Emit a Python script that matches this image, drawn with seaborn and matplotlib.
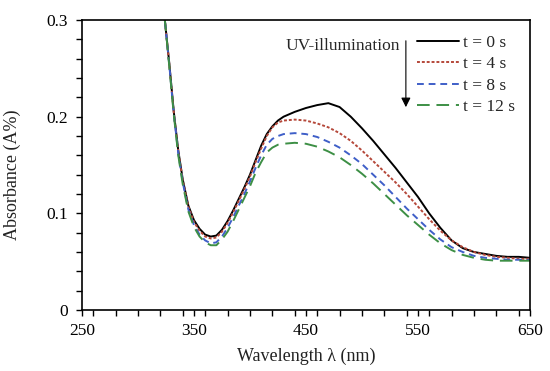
import matplotlib
matplotlib.use("Agg")
import matplotlib.pyplot as plt
import seaborn as sns
import pandas as pd
from matplotlib.ticker import MultipleLocator

wavelength = [320, 324, 328, 332, 336, 340, 345, 350, 355, 360, 365, 370, 375, 380, 385,
              390, 395, 400, 405, 410, 415, 420, 425, 430, 440, 450, 460, 470, 480, 490,
              500, 510, 520, 530, 540, 550, 560, 570, 580, 590, 600, 610, 620, 630, 640, 650]

abs_t0 = [0.36, 0.30, 0.255, 0.205, 0.165, 0.135, 0.108, 0.093, 0.084, 0.078, 0.076, 0.077, 0.083,
          0.092, 0.103, 0.115, 0.127, 0.140, 0.155, 0.170, 0.182, 0.190, 0.196, 0.200, 0.205,
          0.209, 0.212, 0.214, 0.210, 0.200, 0.188, 0.175, 0.161, 0.147, 0.132, 0.117, 0.100,
          0.085, 0.072, 0.064, 0.060, 0.058, 0.056, 0.055, 0.055, 0.054]
abs_t4 = [0.36, 0.30, 0.254, 0.204, 0.164, 0.134, 0.107, 0.091, 0.082, 0.076, 0.074, 0.075, 0.081,
          0.090, 0.101, 0.113, 0.125, 0.138, 0.153, 0.167, 0.180, 0.189, 0.194, 0.196, 0.197,
          0.196, 0.193, 0.189, 0.183, 0.175, 0.165, 0.154, 0.143, 0.132, 0.120, 0.107, 0.094,
          0.082, 0.072, 0.065, 0.060, 0.057, 0.055, 0.054, 0.053, 0.053]
abs_t8 = [0.36, 0.30, 0.253, 0.203, 0.162, 0.132, 0.104, 0.088, 0.078, 0.072, 0.069, 0.070, 0.076,
          0.085, 0.096, 0.108, 0.120, 0.133, 0.147, 0.160, 0.171, 0.177, 0.180, 0.182, 0.183,
          0.182, 0.179, 0.174, 0.168, 0.160, 0.151, 0.140, 0.129, 0.117, 0.105, 0.094, 0.083,
          0.073, 0.065, 0.060, 0.056, 0.054, 0.053, 0.052, 0.052, 0.052]
abs_t12 = [0.36, 0.30, 0.252, 0.202, 0.160, 0.130, 0.102, 0.086, 0.076, 0.070, 0.067, 0.067, 0.073,
           0.081, 0.092, 0.104, 0.116, 0.128, 0.142, 0.153, 0.163, 0.168, 0.171, 0.172, 0.173,
           0.172, 0.169, 0.164, 0.158, 0.150, 0.141, 0.131, 0.120, 0.109, 0.098, 0.088, 0.078,
           0.069, 0.062, 0.057, 0.054, 0.052, 0.051, 0.051, 0.051, 0.051]

series_labels = ["t = 0 s", "t = 4 s", "t = 8 s", "t = 12 s"]
series_values = [abs_t0, abs_t4, abs_t8, abs_t12]

x_ticks = [250, 350, 450, 550, 650]
y_ticks = [0, 0.1, 0.2, 0.3]
y_tick_labels = ["0", "0.1", "0.2", "0.3"]

rows = []
for lab, vals in zip(series_labels, series_values):
    for w, a in zip(wavelength, vals):
        rows.append({"wl": w, "A": a, "series": lab})
df = pd.DataFrame(rows)

sns.set_style("ticks")
plt.rcParams["font.family"] = ["Liberation Serif", "DejaVu Serif"]
FS = 12.5

fig = plt.figure(figsize=(5.5, 3.71), dpi=100)
ax = fig.add_axes([0.149, 0.1644, 0.8146, 0.7816])

palette = {"t = 0 s": "#000000", "t = 4 s": "#b5483a", "t = 8 s": "#3f5fc8", "t = 12 s": "#3d8f45"}
dashes = {"t = 0 s": "", "t = 4 s": (1.5, 1.0), "t = 8 s": (3.5, 2.5), "t = 12 s": (6.5, 3.5)}

sns.lineplot(data=df, x="wl", y="A", hue="series", style="series", palette=palette,
             dashes=dashes, hue_order=series_labels, style_order=series_labels,
             linewidth=1.4, ax=ax, legend=True)

ax.set_xlim(250, 650)
ax.set_ylim(0, 0.3)
ax.set_xticks(x_ticks)
ax.set_xticklabels([str(t) for t in x_ticks])
ax.set_yticks(y_ticks)
ax.set_yticklabels(y_tick_labels)
ax.xaxis.set_minor_locator(MultipleLocator(20))
ax.yaxis.set_minor_locator(MultipleLocator(0.02))
ax.tick_params(which="both", direction="out", length=4, width=1, color="black",
               labelsize=FS, labelcolor="black")
ax.tick_params(axis="y", which="major", pad=6)
ax.tick_params(axis="x", which="major", pad=5)
for s in ax.spines.values():
    s.set_color("black")
    s.set_linewidth(1.2)

ax.set_xlabel("Wavelength λ (nm)", fontsize=FS + 0.5, color="#222222")
ax.set_ylabel("Absorbance (A%)", fontsize=FS + 0.5, color="#222222")
ax.yaxis.set_label_coords(-0.136, 0.466)
ax.xaxis.set_label_coords(0.5, -0.13)

leg = ax.legend(loc="upper right", bbox_to_anchor=(1.0, 1.0), frameon=False,
                handlelength=2.4, handletextpad=0.25, labelspacing=0.3,
                fontsize=FS, borderaxespad=0.45)

ax.annotate("", xy=(0.723, 0.69), xycoords="axes fraction",
            xytext=(0.723, 0.938), textcoords="axes fraction",
            arrowprops=dict(arrowstyle="-|>", color="black", lw=0.8, mutation_scale=14))
ax.text(0.71, 0.912, "UV-illumination", transform=ax.transAxes, ha="right", va="center",
        fontsize=FS)

fig.savefig("out.png", dpi=100)
